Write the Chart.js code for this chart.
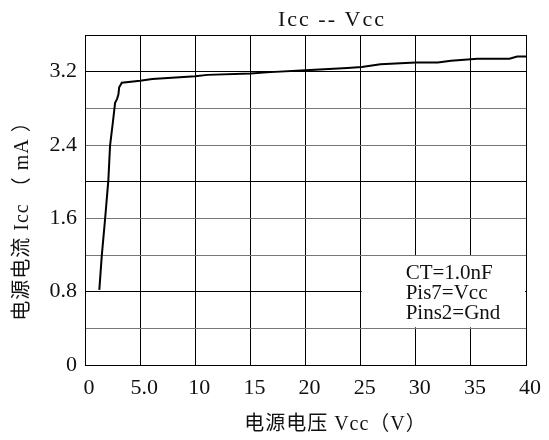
<!DOCTYPE html>
<html>
<head>
<meta charset="utf-8">
<script src="https://cdn.jsdelivr.net/npm/chart.js@4.4.1/dist/chart.umd.min.js"></script>
<style>
  body { margin: 0; background: #fff; }
  #wrap { width: 549px; height: 440px; }
</style>
</head>
<body>
<div id="wrap"><canvas id="iccChart"></canvas></div>
<script>
// Icc vs Vcc curve
var vcc = [1.3, 1.52, 1.82, 2.12, 2.27, 2.52, 2.73, 2.9, 3.03, 3.1, 3.34, 5.0, 6.1, 10, 11.1, 15, 16.8, 20, 23.8, 25.1, 26.8, 30, 32, 33.2, 35.6, 38.5, 39.2, 40];
var icc = [0.82, 1.19, 1.59, 2.02, 2.39, 2.64, 2.86, 2.9, 2.95, 3.03, 3.08, 3.10, 3.12, 3.15, 3.165, 3.18, 3.195, 3.215, 3.24, 3.25, 3.28, 3.30, 3.30, 3.32, 3.34, 3.34, 3.365, 3.365];

var xTickLabels = ['0', '5.0', '10', '15', '20', '25', '30', '35', '40'];
var yTickLabels = ['0', '0.8', '1.6', '2.4', '3.2'];
var yLabelValues = [0, 0.8, 1.6, 2.4, 3.2];

var chartTitle = 'Icc -- Vcc';
var xTitle = '电源电压 Vcc（V）';
var yTitle = '电源电流 Icc （ mA ）';
var noteLines = ['CT=1.0nF', 'Pis7=Vcc', 'Pins2=Gnd'];

var FONT = "'Liberation Serif', 'Noto Sans CJK SC', serif";

var points = vcc.map(function (v, i) { return { x: v, y: icc[i] }; });

// titles and the condition box are drawn by hand
var textPlugin = {
  id: 'texts',
  beforeDatasetsDraw: function (chart) {
    var ctx = chart.ctx;
    var xs = chart.scales.x, ys = chart.scales.y;

    // white box over the grid in the lower right corner
    var bx = xs.getPixelForValue(25), bx2 = xs.getPixelForValue(40);
    var by = ys.getPixelForValue(1.2), by2 = ys.getPixelForValue(0.4);
    ctx.save();
    ctx.fillStyle = '#fff';
    ctx.fillRect(bx + 1, by + 1, bx2 - bx - 2, by2 - by - 2);
    ctx.fillStyle = '#111';
    ctx.font = '21px ' + FONT;
    ctx.textAlign = 'left';
    ctx.textBaseline = 'middle';
    noteLines.forEach(function (t, i) {
      ctx.fillText(t, bx + 45, by + 18 + i * 20);
    });
    ctx.restore();
  },
  afterDraw: function (chart) {
    var ctx = chart.ctx;
    var area = chart.chartArea;
    ctx.save();
    ctx.fillStyle = '#111';
    ctx.textAlign = 'center';
    ctx.textBaseline = 'middle';
    ctx.font = '22px ' + FONT;
    ctx.letterSpacing = '2px';
    ctx.fillText(chartTitle, area.left + 0.56 * (area.right - area.left), 20);
    ctx.font = '20px ' + FONT;
    ctx.letterSpacing = '1px';
    ctx.fillText(xTitle, area.left + 0.568 * (area.right - area.left), 425);
    ctx.translate(23, 216);
    ctx.rotate(-Math.PI / 2);
    ctx.fillText(yTitle, 0, 0);
    ctx.restore();
  }
};

document.addEventListener('DOMContentLoaded', function () {
  var ctx = document.getElementById('iccChart').getContext('2d');
  new Chart(ctx, {
    type: 'line',
    data: {
      datasets: [{
        data: points,
        borderColor: '#000',
        borderWidth: 2,
        pointRadius: 0,
        tension: 0,
        fill: false
      }]
    },
    options: {
      responsive: true,
      maintainAspectRatio: false,
      animation: false,
      layout: { padding: { top: 35, right: 23, left: 0, bottom: 0 } },
      plugins: {
        legend: { display: false },
        tooltip: { enabled: false }
      },
      scales: {
        x: {
          type: 'linear',
          min: 0,
          max: 40,
          afterFit: function (s) { s.height = 75; },
          border: { color: '#000', width: 1 },
          grid: { color: '#000', lineWidth: 1, drawTicks: false },
          ticks: {
            stepSize: 5,
            padding: 10,
            labelOffset: 4,
            color: '#111',
            font: { family: FONT, size: 22 },
            callback: function (v, i) { return xTickLabels[i]; }
          }
        },
        y: {
          min: 0,
          max: 3.6,
          afterFit: function (s) { s.width = 85; },
          border: { color: '#000', width: 1 },
          grid: {
            drawTicks: false,
            lineWidth: 1,
            color: function (c) {
              var k = Math.round(c.tick.value * 10);
              return (k % 12 === 8 || k === 36 || k === 0) ? '#000' : '#777';
            }
          },
          ticks: {
            stepSize: 0.4,
            padding: 8,
            color: '#111',
            font: { family: FONT, size: 22 },
            callback: function (v) {
              var i = yLabelValues.findIndex(function (y) { return Math.abs(y - v) < 1e-6; });
              return i >= 0 ? yTickLabels[i] : '';
            }
          }
        }
      }
    },
    plugins: [textPlugin]
  });
});
</script>
</body>
</html>
